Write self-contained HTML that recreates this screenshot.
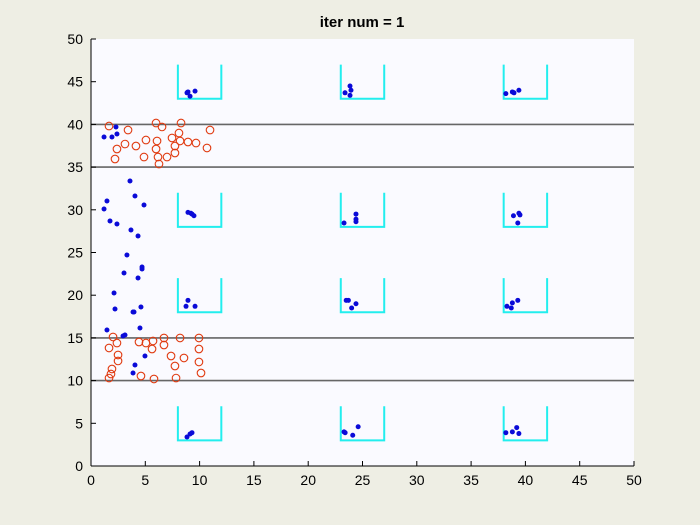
<!DOCTYPE html>
<html><head><meta charset="utf-8"><style>
html,body{margin:0;padding:0;background:#eeeee4;}
svg{display:block;font-family:"Liberation Sans",sans-serif;}
</style></head><body>
<svg id="chart" width="700" height="525">
<rect x="0" y="0" width="700" height="525" fill="#eeeee4"/>
<rect x="91" y="39" width="543" height="427" fill="#fafaff"/>
<text x="362" y="27" text-anchor="middle" font-size="15" font-weight="bold" fill="#000">iter num = 1</text>
<g id="lines"></g><g id="boxes"></g><g id="pts"></g><g id="axes"></g>
</svg>
<script>
const xTicks=[0,5,10,15,20,25,30,35,40,45,50];
const yTicks=[0,5,10,15,20,25,30,35,40,45,50];
const hLines=[10,15,35,40];
const boxX=[8,23,38];
const boxY=[3,18,28,43];
const boxW=4, boxH=4;
const redX=[1.66,5.99,6.54,8.29,10.96,3.41,8.10,7.46,5.06,6.08,8.20,8.93,9.67,3.13,7.73,4.14,10.68,5.99,2.39,7.73,4.88,6.17,7.00,2.21,6.26,
 2.03,4.42,5.06,2.39,5.71,6.72,8.20,9.94,6.72,1.66,5.62,9.94,2.49,7.37,8.56,2.49,9.94,7.73,1.93,1.84,10.13,1.66,4.60,5.80,7.83];
const redY=[39.81,40.16,39.70,40.16,39.34,39.34,38.99,38.41,38.17,38.06,38.06,37.94,37.82,37.70,37.47,37.47,37.24,37.12,37.12,36.65,36.18,36.18,36.18,35.95,35.36,
 15.11,14.52,14.40,14.40,14.64,14.99,14.99,14.99,14.17,13.82,13.70,13.70,13.00,12.88,12.65,12.30,12.18,11.71,11.36,10.77,10.89,10.30,10.54,10.19,10.30];
const blueX=[2.30,2.39,1.93,1.20,3.59,1.47,4.05,4.88,1.20,1.75,2.39,3.68,4.33,3.31,4.70,4.70,3.04,4.33,2.12,4.60,2.21,3.87,3.96,4.51,1.47,2.95,3.13,4.97,4.05,3.87,
 8.84,9.12,9.58,8.93,8.93,9.30,9.48,9.2,8.93,8.75,9.58,8.84,9.12,9.30,
 23.85,23.94,23.39,23.85,24.4,24.4,24.4,23.3,23.5,23.7,24.4,24.0,23.3,23.4,24.1,24.6,
 38.2,38.8,38.95,39.4,38.9,39.4,39.5,39.3,38.3,38.7,38.8,39.3,38.2,38.8,39.2,39.4];
const blueY=[39.70,38.88,38.52,38.52,33.37,31.03,31.62,30.56,30.09,28.69,28.34,27.63,26.93,24.71,23.30,23.07,22.60,22.01,20.26,18.62,18.38,18.03,18.03,16.16,15.93,15.22,15.34,12.88,11.83,10.89,
 43.7,43.3,43.9,43.8,29.7,29.5,29.3,29.6,19.4,18.7,18.7,3.4,3.75,3.9,
 44.5,44.0,43.7,43.4,29.5,28.9,28.6,28.45,19.4,19.4,19.0,18.5,4.0,3.9,3.6,4.6,
 43.6,43.8,43.7,44.0,29.3,29.6,29.4,28.45,18.7,18.5,19.1,19.4,3.9,4.0,4.5,3.8];
const X0=91,X1=634,Y0=466,Y1=39;
const sx=v=>X0+(v-0)/50*(X1-X0);
const sy=v=>Y0-(v-0)/50*(Y0-Y1);
const NS='http://www.w3.org/2000/svg';
function mk(t,p,a){const e=document.createElementNS(NS,t);for(const k in a)e.setAttribute(k,a[k]);p.appendChild(e);return e;}
const L=document.getElementById('lines'),B=document.getElementById('boxes'),P=document.getElementById('pts'),A=document.getElementById('axes');
hLines.forEach(v=>{const e=mk('line',L,{x1:X0,x2:X1,y1:sy(v),y2:sy(v),stroke:'#666',"stroke-width":1.6});

});
boxX.forEach(bx=>boxY.forEach(by=>{
 const d=`M${sx(bx)},${sy(by+boxH)} L${sx(bx)},${sy(by)} L${sx(bx+boxW)},${sy(by)} L${sx(bx+boxW)},${sy(by+boxH)}`;
 const e=mk('path',B,{d:d,fill:'none',stroke:'#22eeee',"stroke-width":2});
 
 }));
redX.forEach((v,i)=>{const e=mk('circle',P,{cx:sx(v),cy:sy(redY[i]),r:3.8,fill:'none',stroke:'#e03a10',"stroke-width":1.1});

});
blueX.forEach((v,i)=>{const e=mk('circle',P,{cx:sx(v),cy:sy(blueY[i]),r:2.5,fill:'#0a0ad8'});

});
const ax=mk('line',A,{x1:X0,x2:X1,y1:Y0,y2:Y0,stroke:'#000',"stroke-width":1});


const ay=mk('line',A,{x1:X0,x2:X0,y1:Y0,y2:Y1,stroke:'#000',"stroke-width":1});


xTicks.forEach(t=>{mk('line',A,{x1:sx(t),x2:sx(t),y1:Y0,y2:Y0-5,stroke:'#000'});
 const e=mk('text',A,{x:sx(t),y:Y0+19,"text-anchor":"middle","font-size":14,fill:'#000'});e.textContent=t;
 
 });
yTicks.forEach(t=>{mk('line',A,{x1:X0,x2:X0+5,y1:sy(t),y2:sy(t),stroke:'#000'});
 const e=mk('text',A,{x:X0-8,y:sy(t)+5,"text-anchor":"end","font-size":14,fill:'#000'});e.textContent=t;
 
 });
</script>
</body></html>
